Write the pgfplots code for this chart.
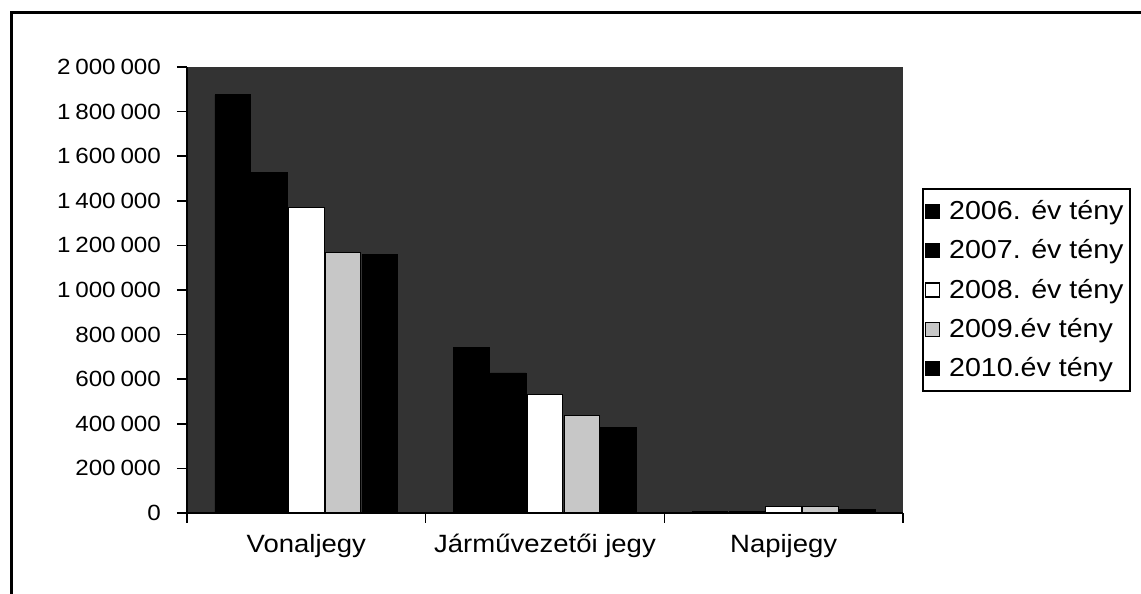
\documentclass[border=0pt]{standalone}
\usepackage{pgfplots}
\pgfplotsset{compat=1.18}
\usepackage{fontspec}
\setmainfont[FakeStretch=1.1]{Liberation Sans}
\begin{document}
\begin{tikzpicture}
\useasboundingbox (0,0) rectangle (570.5pt,297pt);
\draw[line width=1.5pt] (5.5pt,0pt) -- (5.5pt,290.5pt) -- (570.5pt,290.5pt);
\begin{axis}[
  at={(93.5pt,40.5pt)}, anchor=south west,
  scale only axis, width=358pt, height=223pt,
  font=\fontsize{12.5}{14}\selectfont,
  ybar=0.6pt, bar width=17.8pt,
  xmin=-0.5, xmax=2.5, ymin=0, ymax=2000000,
  axis background/.style={fill=black!80},
  axis line style={black, line width=0.8pt},
  axis x line*=bottom, axis y line*=left,
  tick align=outside, major tick length=5pt,
  tick style={black, line width=0.8pt},
  xtick={-0.5,0.5,1.5,2.5}, xticklabels={},
  extra x ticks={0,1,2},
  extra x tick labels={Vonaljegy,Járművezetői jegy,Napijegy},
  extra x tick style={major tick length=0pt, tick label style={yshift=-7pt}},
  ytick={0,200000,...,2000000},
  scaled y ticks=false,
  yticklabel style={font=\fontsize{11}{13}\selectfont, xshift=-4.5pt, /pgf/number format/.cd, fixed, precision=0, 1000 sep={\hspace{0.22em}}, assume math mode=true},
  legend style={at={(1.0265,0.5)}, anchor=west, draw=black, line width=1pt,
    font=\fontsize{13}{14}\selectfont, row sep=4.6pt, inner xsep=1pt, inner ysep=3.5pt,
    /tikz/every odd column/.append style={column sep=2.5pt}},
  legend cell align=left,
  legend image code/.code={\draw[#1, line width=0.6pt] (0pt,-3.5pt) rectangle (7pt,3.5pt);},
]
\addplot[fill=black, draw=black] coordinates {(0,1875000) (1,744000) (2,6000)};
\addplot[fill=black, draw=black] coordinates {(0,1528000) (1,628000) (2,8000)};
\addplot[fill=white, draw=black, line width=0.5pt] coordinates {(0,1372000) (1,530000) (2,30000)};
\addplot[fill=black!22, draw=black, line width=0.5pt] coordinates {(0,1170000) (1,435000) (2,30000)};
\addplot[fill=black, draw=black] coordinates {(0,1161000) (1,385000) (2,15000)};
\legend{2006. év tény,2007. év tény,2008. év tény,2009.év tény,2010.év tény}
\end{axis}
\end{tikzpicture}
\end{document}
